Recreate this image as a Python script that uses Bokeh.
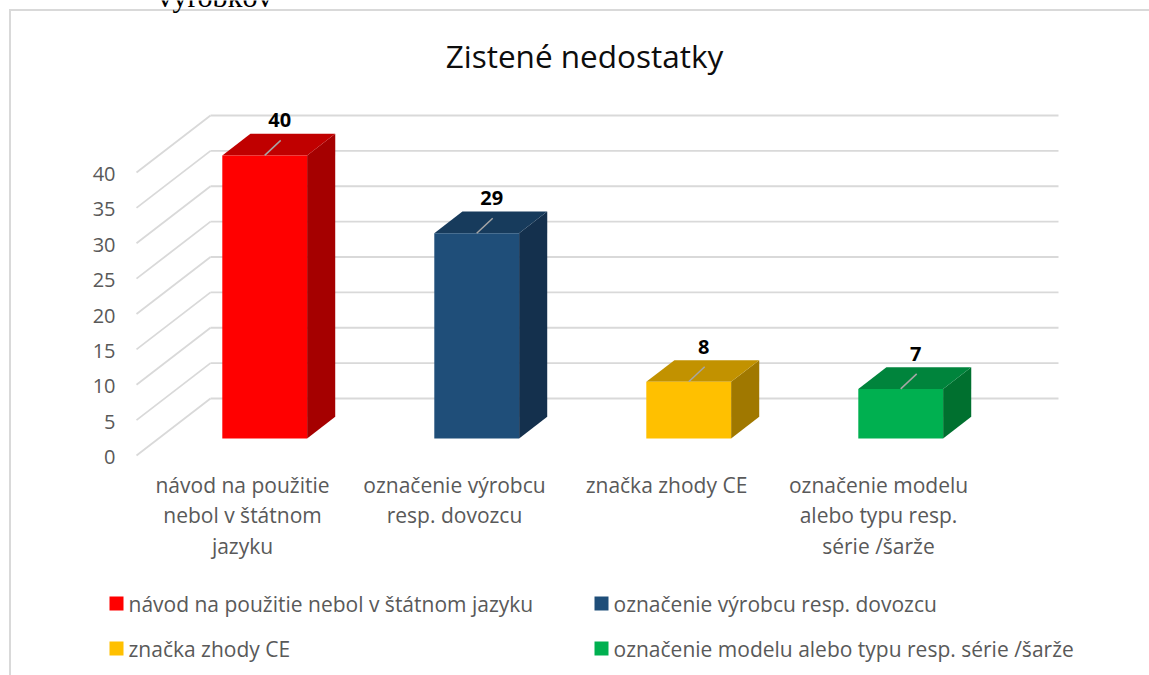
from bokeh.plotting import figure
from bokeh.models import Range1d, ColumnDataSource
from bokeh.core.properties import value
from bokeh.embed import file_html
from bokeh.resources import INLINE

# ---------------- data ----------------
chart_title = "Zistené nedostatky"
categories = [
    "návod na použitie nebol v štátnom jazyku",
    "označenie výrobcu resp. dovozcu",
    "značka zhody CE",
    "označenie modelu alebo typu resp. série /šarže",
]
axis_labels = [
    "návod na použitie\nnebol v štátnom\njazyku",
    "označenie výrobcu\nresp. dovozcu",
    "značka zhody CE",
    "označenie modelu\nalebo typu resp.\nsérie /šarže",
]
values = [40, 29, 8, 7]
y_ticks = [0, 5, 10, 15, 20, 25, 30, 35, 40]
front_colors = ["#FF0000", "#1F4E79", "#FFC000", "#00B050"]
top_colors = ["#C00000", "#173B5C", "#C29200", "#00843C"]
side_colors = ["#A50000", "#14304D", "#A07800", "#00702F"]
page_fragment = "výrobkov"   # tail of the document text above the chart

# ---------------- geometry ----------------
W, H = 1149, 675
X0_PX, Y0_PX = 136.0, 455.0   # front-plane origin (category 0, value 0) in px
PX_CAT = 212.0                # px per category on the front plane
PX_VAL = 7.075                # px per value unit
DX = 74.0 / PX_CAT            # full depth shift in x (data units)
DY = 57.0 / PX_VAL            # full depth shift in y (data units)
D0, D1 = 0.30, 0.68           # bar depth (front / back)
HW = 0.20                     # half bar width (category units)


def px2x(px):
    return (px - X0_PX) / PX_CAT


def px2y(py):
    return (Y0_PX - py) / PX_VAL


FONT = "Open Sans"
GRAY = "#595959"

p = figure(width=W, height=H, output_backend="svg", toolbar_location=None,
           x_range=Range1d(px2x(0), px2x(W)), y_range=Range1d(px2y(H), px2y(0)),
           x_axis_location=None, y_axis_location=None, title=None)
p.min_border = 0
p.min_border_left = 0
p.min_border_right = 0
p.min_border_top = 0
p.min_border_bottom = 0
p.border_fill_alpha = 0
p.background_fill_alpha = 0
p.outline_line_color = None
p.grid.visible = False
p.styles = {"box-shadow": "inset 9px 9px 0 0 #ffffff, inset 11px 11px 0 0 #d9d9d9"}

n = len(categories)
centers = [i + 0.5 for i in range(n)]

# fragment of the surrounding document (cut by the page top)
p.text(x=[px2x(157)], y=[px2y(-4)], text=[page_fragment],
       text_font=value("Liberation Serif"), text_font_size="30px",
       text_color="#000000", text_align="left", text_baseline="middle")

# title
p.text(x=[px2x(584)], y=[px2y(54.5)], text=[chart_title],
       text_font=value(FONT), text_font_size="31.5px", text_color="#0d0d0d",
       text_align="center", text_baseline="middle")

# back wall gridlines + floor diagonals
gx0, gy0, gx1, gy1 = [], [], [], []
for v in y_ticks:
    gx0.append(0); gy0.append(v); gx1.append(DX); gy1.append(v + DY)
    gx0.append(DX); gy0.append(v + DY); gx1.append(n + DX); gy1.append(v + DY)
p.segment(gx0, gy0, gx1, gy1, line_color="#d9d9d9", line_width=1.8)

# y tick labels (value axis on the front plane)
p.text(x=[px2x(115)] * len(y_ticks), y=[t - 1.5 / PX_VAL for t in y_ticks],
       text=[str(t) for t in y_ticks], text_font=value(FONT), text_font_size="20px",
       text_color=GRAY, text_align="right", text_baseline="middle")

# category labels
p.text(x=centers, y=[px2y(470)] * n, text=axis_labels, text_font=value(FONT),
       text_font_size="21px", text_color=GRAY, text_align="center",
       text_baseline="top", text_line_height=1.1)

# bars
front_src = ColumnDataSource(dict(
    x=[c + D0 * DX for c in centers],
    top=[v + D0 * DY for v in values],
    bottom=[D0 * DY] * n,
    color=front_colors,
    name=categories,
))
top_xs, top_ys, side_xs, side_ys = [], [], [], []
for c, v in zip(centers, values):
    top_xs.append([c - HW + D0 * DX, c + HW + D0 * DX, c + HW + D1 * DX, c - HW + D1 * DX])
    top_ys.append([v + D0 * DY, v + D0 * DY, v + D1 * DY, v + D1 * DY])
    side_xs.append([c + HW + D0 * DX, c + HW + D1 * DX, c + HW + D1 * DX, c + HW + D0 * DX])
    side_ys.append([D0 * DY, D1 * DY, v + D1 * DY, v + D0 * DY])
p.patches(side_xs, side_ys, fill_color=side_colors, line_color=None)
p.patches(top_xs, top_ys, fill_color=top_colors, line_color=None)
p.vbar(x="x", width=2 * HW, top="top", bottom="bottom", fill_color="color",
       line_color=None, source=front_src)

# data labels with leader lines
lx0 = [c + D0 * DX for c in centers]
ly0 = [v + D0 * DY for v in values]
lx1 = [x + 16 / PX_CAT for x in lx0]
ly1 = [y + 15 / PX_VAL for y in ly0]
p.segment(lx0, ly0, lx1, ly1, line_color="#a6a6a6", line_width=1.5)
p.text(x=[x - 1 / PX_CAT for x in lx1], y=[y + 20 / PX_VAL for y in ly1],
       text=[str(v) for v in values],
       text_font=value(FONT), text_font_style="bold", text_font_size="20px",
       text_color="#000000", text_align="center", text_baseline="middle")

# legend (2 x 2 grid: row-major order)
LEG_COLS_PX = [116, 601]
LEG_ROWS_PX = [603, 648]
leg_x = [px2x(LEG_COLS_PX[i % 2]) for i in range(n)]
leg_y = [px2y(LEG_ROWS_PX[i // 2]) for i in range(n)]
p.rect(x=leg_x, y=leg_y, width=14, height=14, width_units="screen",
       height_units="screen", fill_color=front_colors, line_color=None)
p.text(x=[x + 12 / PX_CAT for x in leg_x], y=leg_y, text=categories,
       text_font=value(FONT), text_font_size="21px", text_color=GRAY,
       text_align="left", text_baseline="middle")

open("out.html", "w").write(file_html(p, INLINE))
